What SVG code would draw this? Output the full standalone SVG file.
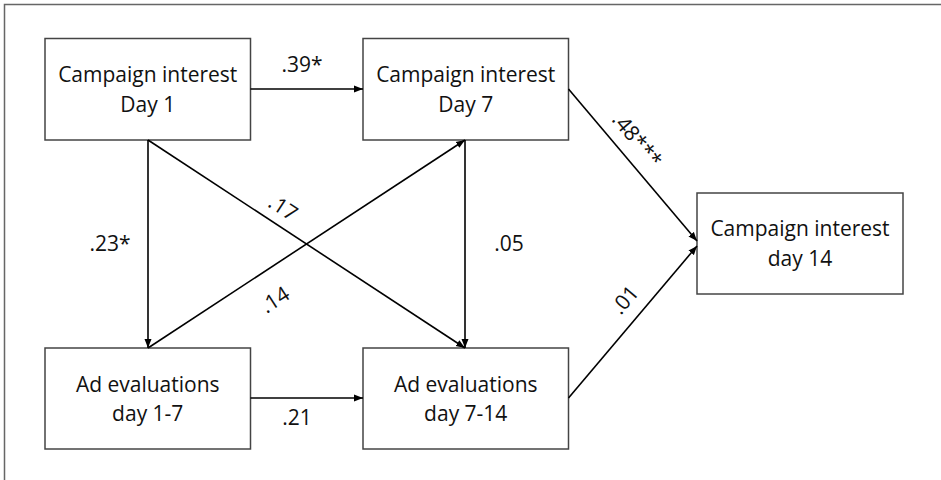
<svg xmlns="http://www.w3.org/2000/svg" width="941" height="480" viewBox="0 0 941 480">
  <defs>
    <marker id="arr" markerUnits="userSpaceOnUse" markerWidth="10" markerHeight="8" refX="9" refY="4" orient="auto">
      <path d="M0,0.5 L9,4 L0,7.5 z" fill="#000"/>
    </marker>
    <style>
      .box { fill: #fff; stroke: #444; stroke-width: 1.5; }
      .t { font-family: "Open Sans", "Liberation Sans", sans-serif; font-size: 21px; fill: #111; text-anchor: middle; }
      .c { stroke: #000; stroke-width: 1.6; fill: none; marker-end: url(#arr); }
      .frame { fill: none; stroke: #666; stroke-width: 1.5; }
    </style>
  </defs>
  <rect x="0" y="0" width="941" height="480" fill="#fff"/>
  <rect class="frame" x="4.5" y="4.5" width="1000" height="1000"/>

  <g id="nodes">
    <g id="ci1">
      <rect class="box" x="45" y="38.5" width="205.5" height="101.5"/>
      <text class="t" x="147.75" y="82">Campaign interest</text>
      <text class="t" x="147.75" y="112">Day 1</text>
    </g>
    <g id="ci7">
      <rect class="box" x="363" y="38.5" width="205.5" height="101.5"/>
      <text class="t" x="465.75" y="82">Campaign interest</text>
      <text class="t" x="465.75" y="112">Day 7</text>
    </g>
    <g id="ci14">
      <rect class="box" x="697" y="193" width="206" height="101"/>
      <text class="t" x="800" y="236">Campaign interest</text>
      <text class="t" x="800" y="266">day 14</text>
    </g>
    <g id="ad17">
      <rect class="box" x="45" y="348" width="205.5" height="101"/>
      <text class="t" x="147.75" y="392">Ad evaluations</text>
      <text class="t" x="147.75" y="421">day 1-7</text>
    </g>
    <g id="ad714">
      <rect class="box" x="363" y="348" width="205.5" height="101"/>
      <text class="t" x="465.75" y="392">Ad evaluations</text>
      <text class="t" x="465.75" y="421">day 7-14</text>
    </g>
  </g>

  <g id="connectors">
    <line class="c" x1="250.5" y1="89" x2="363" y2="89"/>
    <line class="c" x1="148" y1="140" x2="148" y2="348"/>
    <line class="c" x1="148" y1="140" x2="465" y2="348"/>
    <line class="c" x1="148" y1="348" x2="465" y2="140"/>
    <line class="c" x1="465" y1="140" x2="465" y2="348"/>
    <line class="c" x1="250.5" y1="398" x2="363" y2="398"/>
    <line class="c" x1="568.5" y1="89" x2="697" y2="241"/>
    <line class="c" x1="568.5" y1="398" x2="697" y2="246"/>
  </g>

  <g id="labels">
    <text class="t" x="302" y="72">.39*</text>
    <text class="t" x="110" y="251">.23*</text>
    <text class="t" x="509" y="251">.05</text>
    <text class="t" x="297" y="425">.21</text>
    <text class="t" transform="translate(283,208) rotate(33)" x="0" y="7">.17</text>
    <text class="t" transform="translate(275,300) rotate(-33)" x="0" y="7">.14</text>
    <text class="t" transform="translate(637,140) rotate(50)" x="0" y="7">.48***</text>
    <text class="t" transform="translate(625,300) rotate(-50)" x="0" y="7">.01</text>
  </g>
</svg>
